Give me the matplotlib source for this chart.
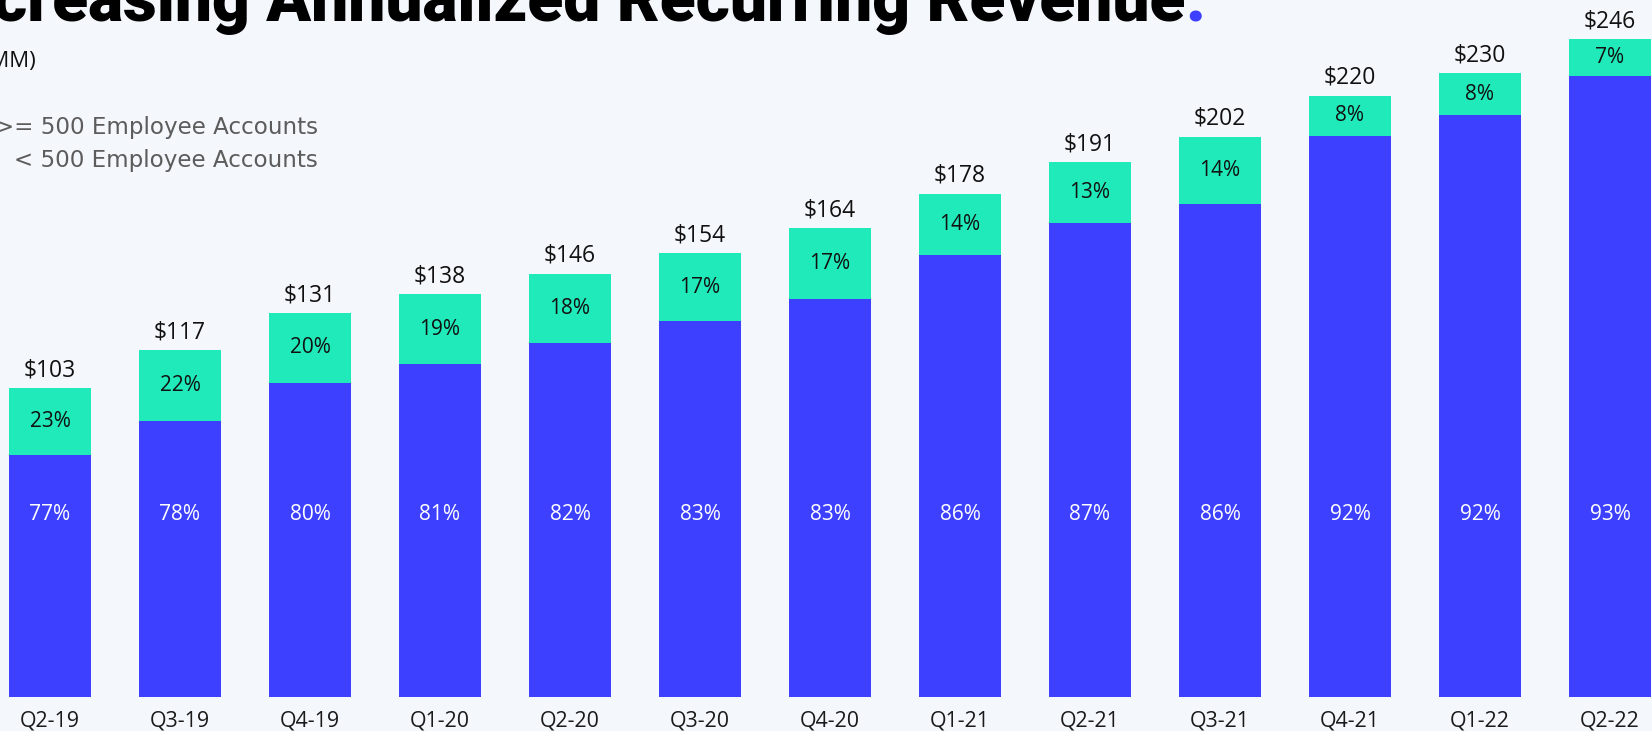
import numpy as np
import matplotlib
matplotlib.use("Agg")
import matplotlib.pyplot as plt
import matplotlib.transforms as mtransforms

quarters = ["Q2-19", "Q3-19", "Q4-19", "Q1-20", "Q2-20", "Q3-20", "Q4-20",
            "Q1-21", "Q2-21", "Q3-21", "Q4-21", "Q1-22", "Q2-22"]
total_arr = [103, 117, 131, 138, 146, 154, 164, 178, 191, 202, 220, 230, 246]
small_pct = [23, 22, 20, 19, 18, 17, 17, 14, 13, 14, 8, 8, 7]      # >= 500 employees (green)
large_pct = [77, 78, 80, 81, 82, 83, 83, 86, 87, 86, 92, 92, 93]    # < 500 employees (blue)

BG = "#F4F7FB"
BLUE = "#3D41FF"
GREEN = "#21EABA"
FONT = "Open Sans"

W, H = 1652, 731
fig = plt.figure(figsize=(W / 100, H / 100), dpi=100, facecolor=BG)
ax = fig.add_axes([0, (H - 696.7) / H, 1, 696.7 / H])
ax.set_facecolor(BG)

# gently compressive value axis (the original slide squeezes the taller bars)
C = 0.000695
def fwd(v):
    v = np.asarray(v, dtype=float)
    return v - C * v * v
def inv(u):
    u = np.asarray(u, dtype=float)
    return (1 - np.sqrt(np.clip(1 - 4 * C * u, 0, None))) / (2 * C)
ax.set_yscale("function", functions=(fwd, inv))

x = np.arange(len(quarters))
totals = np.array(total_arr, dtype=float)
blue_vals = totals * np.array(large_pct) / 100.0
green_vals = totals - blue_vals

ax.bar(x, blue_vals, width=0.626, color=BLUE, linewidth=0)
ax.bar(x, green_vals, width=0.626, bottom=blue_vals, color=GREEN, linewidth=0)

ax.set_xlim(-50 / 130, (W - 50) / 130)
ax.set_ylim(0, 264.7)

blend = mtransforms.blended_transform_factory(ax.transData, ax.transAxes)
for i in range(len(quarters)):
    ax.annotate(f"${total_arr[i]}", (x[i], totals[i]), xytext=(0, 12.7),
                textcoords="offset points", ha="center", va="center",
                fontsize=16.5, family=FONT, color="#111111")
    mid = inv((fwd(blue_vals[i]) + fwd(totals[i])) / 2)
    ax.annotate(f"{small_pct[i]}%", (x[i], mid), xytext=(0, 0),
                textcoords="offset points", ha="center", va="center",
                fontsize=15, family=FONT, color="#111111")
    ax.text(x[i], (696.7 - 515) / 696.7, f"{large_pct[i]}%", transform=blend,
            ha="center", va="center", fontsize=15, family=FONT, color="white")

ax.set_xticks(x)
ax.set_xticklabels(quarters, fontsize=15.4, family=FONT, color="#1a1a1a")
ax.tick_params(axis="x", length=0, pad=10)
ax.set_yticks([])
ax.yaxis.set_minor_locator(matplotlib.ticker.NullLocator())
for s in ax.spines.values():
    s.set_visible(False)

# Title (cropped at top / left as in the reference)
renderer = fig.canvas.get_renderer()
probe = fig.text(0, 0, "creasing Annualized Recurring Revenue", fontsize=40,
                 family="Roboto", weight="heavy")
wpx = probe.get_window_extent(renderer).width
probe.remove()
fs = 40 * 1192 / wpx
xr = 1185 / W
yb = 1 - 21 / H
fig.text(xr, yb, "Increasing Annualized Recurring Revenue", ha="right", va="baseline",
         fontsize=fs, family="Roboto", weight="heavy", color="black")
fig.text(xr, yb, ".", ha="left", va="baseline",
         fontsize=fs, family="Roboto", weight="heavy", color=BLUE)

# subtitle and legend texts (cut at the left edge)
fig.text(36 / W, 1 - 61 / H, "($MM)", ha="right", va="center",
         fontsize=16, family=FONT, color="#111111")
fig.text(318 / W, 1 - 127.5 / H, ">= 500 Employee Accounts", ha="right", va="center",
         fontsize=16.6, family="DejaVu Sans", color="#5c5c5c")
fig.text(318 / W, 1 - 160 / H, "< 500 Employee Accounts", ha="right", va="center",
         fontsize=16.6, family="DejaVu Sans", color="#5c5c5c")

fig.savefig("out.png", dpi=100, facecolor=BG)
